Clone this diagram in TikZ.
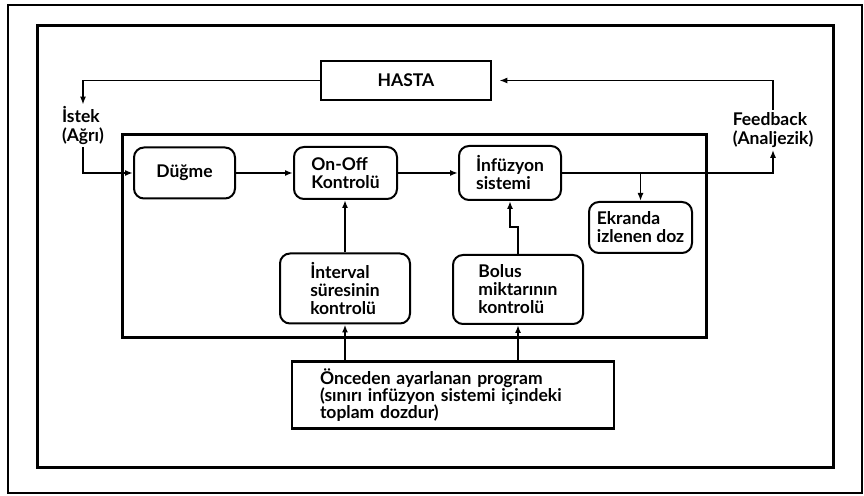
\documentclass[tikz,border=0pt]{standalone}
\usepackage{fontspec}
\setmainfont{Lato}
\usepackage{tikz}
\usetikzlibrary{arrows.meta,positioning}
\tikzset{
  node distance=57pt,
  rbox/.style  ={rectangle, rounded corners=10pt, draw=black, line width=2pt,
                 align=left, font=\fontsize{17.5}{18}\selectfont\bfseries, inner sep=2pt},
  sbox/.style  ={rectangle, draw=black, line width=2.6pt,
                 font=\fontsize{17.5}{17}\selectfont\bfseries, inner sep=2pt},
  frame/.style ={draw=black, line width=3pt},
  fl/.style    ={-{Latex[length=8pt,width=6pt]}, draw=black, line width=1.6pt},
  lbl/.style   ={font=\fontsize{17.5}{19}\selectfont\bfseries, align=left, inner sep=2pt},
}
\begin{document}
\begin{tikzpicture}[x=1pt,y=1pt]
  \useasboundingbox (0,0) rectangle (864,495);
  % frames
  \draw[line width=2pt] (8,2) rectangle (862,490);
  \draw[frame] (37,28) rectangle (833,469);
  \draw[frame] (122,157) rectangle (706,360);

  \node[sbox, minimum width=170pt, minimum height=39pt] (hasta) at (406,414.5) {HASTA};
  \node[rbox, minimum width=101pt, minimum height=51pt] (dugme) at (184.5,322) {Düğme};
  \node[rbox, minimum width=103pt, minimum height=52pt, right=57pt of dugme] (onoff) {On-Off\\Kontrolü};
  \node[rbox, minimum width=102pt, minimum height=54pt, right=60pt of onoff] (infuz) {İnfüzyon\\sistemi};
  \node[rbox, minimum width=103pt, minimum height=51pt] (ekran) at (640.5,267.5) {Ekranda\\izlenen doz};
  \node[rbox, minimum width=130pt, minimum height=70pt] (interv) at (345,206.5) {İnterval\\süresinin\\kontrolü};
  \node[rbox, minimum width=130pt, minimum height=69pt] (bolus) at (518,205.5) {Bolus\\miktarının\\kontrolü};
  \node[sbox, minimum height=67pt, text width=266pt, inner xsep=28pt, align=left] (prog) at (453,100)
       {Önceden ayarlanan program\\(sınırı infüzyon sistemi içindeki\\toplam dozdur)};
  \node[lbl] (istek) at (83,369) {İstek\\(Ağrı)};
  \node[lbl] (feed) at (773,365) {Feedback\\(Analjezik)};

  \draw[fl] (hasta.west) -| (istek.north);
  \draw[fl] (istek.south) |- (dugme.west);
  \draw[fl] (dugme) -- (onoff);
  \draw[fl] (onoff) -- (infuz);
  \draw[fl] (infuz.east) -| (feed.south);
  \draw[fl, shorten >=7pt] (feed.north) |- (hasta.east);
  \draw[fl] (infuz.east -| ekran.north) -- (ekran.north);
  \draw[fl] (interv.north) -- (interv.north |- onoff.south);
  \draw[fl] (bolus.north) -- ++(0,27) -| (infuz.south);
  \draw[fl] (prog.north -| interv.south) -- (interv.south);
  \draw[fl] (prog.north -| bolus.south) -- (bolus.south);
\end{tikzpicture}
\end{document}
